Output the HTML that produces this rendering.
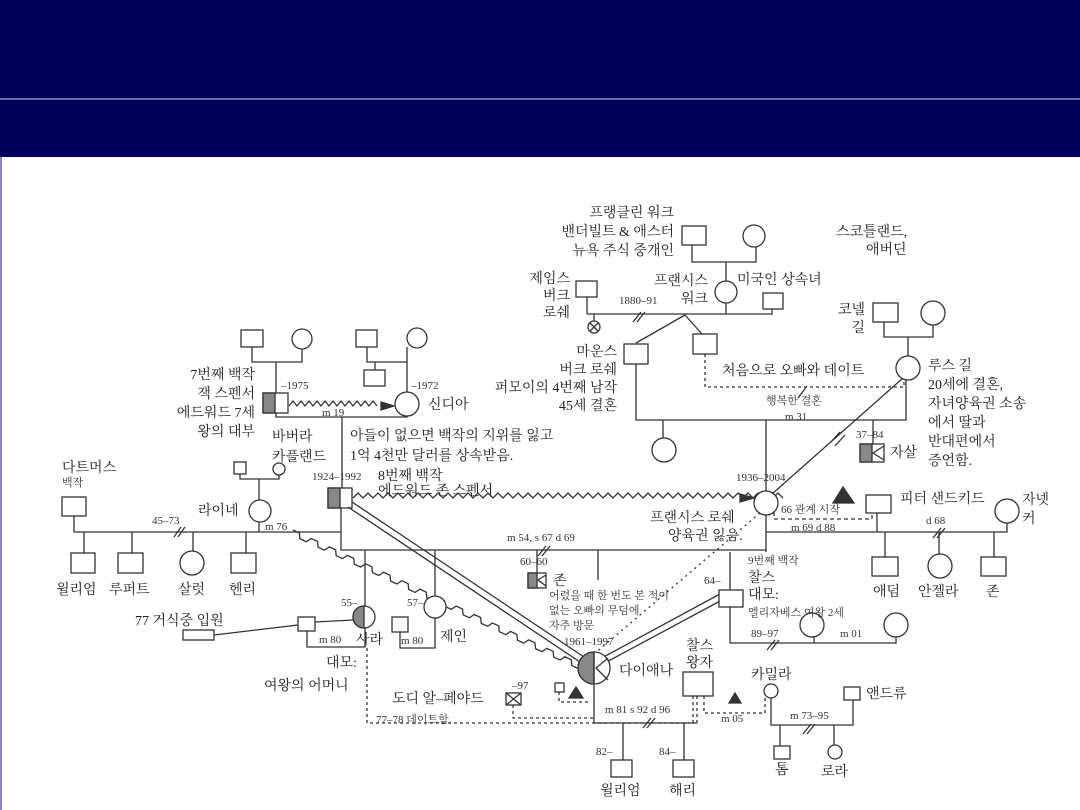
<!DOCTYPE html>
<html><head><meta charset="utf-8"><style>
html,body{margin:0;padding:0;width:1080px;height:810px;overflow:hidden;background:#fff}
svg{display:block}
text{font-family:"Liberation Serif","Noto Serif CJK KR","Noto Serif CJK SC",serif;fill:#222;font-size:14px}
.s{font-size:11px;fill:#333}
</style></head><body>
<svg width="1080" height="810" viewBox="0 0 1080 810">
<rect x="0" y="0" width="1080" height="157" fill="#00005a"/>
<rect x="0" y="98" width="1080" height="2" fill="#6a6a9a"/>
<rect x="0" y="157" width="2" height="653" fill="#8888bb"/>
<g stroke="#333" stroke-width="1.3" fill="none">
<rect x="241" y="330" width="22" height="17" fill="#fff"/>
<circle cx="302" cy="339" r="10" fill="#fff"/>
<path d="M252 347V362H302V349M276 362V393"/>
<rect x="263" y="393" width="25" height="20" fill="#fff"/>
<rect x="263" y="393" width="12" height="20" fill="#888"/>
<rect x="356" y="330" width="21" height="17" fill="#fff"/>
<circle cx="417" cy="338" r="10" fill="#fff"/>
<path d="M367 347V362H407M407 347V392M375 362V370"/>
<rect x="364" y="370" width="21" height="16" fill="#fff"/>
<circle cx="407" cy="404" r="12" fill="#fff"/>
<path d="M276 413V417H407V416M342 417V488"/>
<path d="M0 0l4 -5l4 5l4 -5l4 5l4 -5l4 5l4 -5l4 5l4 -5l4 5l4 -5l4 5l4 -5l4 5l4 -5l4 5l4 -5l4 5l4 -5l4 5l4 -5l4 5" transform="translate(289 406)"/>
<polygon points="381,402 394,406 381,410" fill="#333"/>
<rect x="234" y="462" width="12" height="12" fill="#fff"/>
<circle cx="279" cy="469" r="6" fill="#fff"/>
<path d="M240 474V479H279V475M259 479V500"/>
<circle cx="260" cy="511" r="11" fill="#fff"/>
<rect x="62" y="497" width="24" height="19" fill="#fff"/>
<path d="M74 516V532H341M84 532V553M132 532V553M193 532V553M246 532V553M259 522V532M174 537l7 -10M178 537l7 -10"/>
<rect x="71" y="553" width="24" height="20" fill="#fff"/>
<rect x="118" y="553" width="25" height="20" fill="#fff"/>
<circle cx="192" cy="563" r="12" fill="#fff"/>
<rect x="231" y="553" width="25" height="20" fill="#fff"/>
<rect x="328" y="488" width="24" height="20" fill="#fff"/>
<rect x="328" y="488" width="12" height="20" fill="#888"/>
<path d="M341 508V550H766"/>
<path d="M0 0l5 -5l5 5l5 -5l5 5l5 -5l5 5l5 -5l5 5l5 -5l5 5l5 -5l5 5l5 -5l5 5l5 -5l5 5l5 -5l5 5l5 -5l5 5l5 -5l5 5l5 -5l5 5l5 -5l5 5l5 -5l5 5l5 -5l5 5l5 -5l5 5l5 -5l5 5l5 -5l5 5l5 -5l5 5l5 -5l5 5l5 -5l5 5l5 -5l5 5l5 -5l5 5l5 -5l5 5l5 -5l5 5l5 -5l5 5l5 -5l5 5l5 -5l5 5l5 -5l5 5l5 -5l5 5l5 -5l5 5l5 -5l5 5l5 -5l5 5l5 -5l5 5l5 -5l5 5l5 -5l5 5l5 -5l5 5l5 -5l5 5l5 -5l5 5l5 -5l5 5l5 -5l5 5l5 -5l5 5l5 -5l5 5" transform="translate(353 498)"/>
<polygon points="740,494 754,498 740,502" fill="#333"/>
<path d="M0 0h7l3 5h7l3 -5h7l3 5h7l3 -5h7l3 5h7l3 -5h7l3 5h7l3 -5h7l3 5h7l3 -5h7l3 5h7l3 -5h7l3 5h7l3 -5h7l3 5h7l3 -5h7l3 5h7l3 -5h7l3 5h7l3 -5h7l3 5h7l3 -5h7l3 5h7l3 -5h7l3 5h7l3 -5h7l3 5h7l3 -5h7l3 5h7l3 -5h7l3 5h7l3 -5h7l3 5h7" transform="translate(293 530) rotate(25)"/>
<path d="M352 502L584 657M348 507L580 662"/>
<path d="M598 660L720 594M601 665L722 600"/>
<path d="M365 550V606"/>
<circle cx="364" cy="617" r="11" fill="#fff"/>
<path d="M364 606a11 11 0 0 0 0 22z" fill="#888"/>
<rect x="298" y="617" width="17" height="14" fill="#fff"/>
<path d="M353 620L315 622M214 635L298 625M307 631V647H365V628"/>
<rect x="183" y="630" width="31" height="10" fill="#fff"/>
<path d="M435 550V596"/>
<circle cx="435" cy="607" r="11" fill="#fff"/>
<rect x="392" y="617" width="16" height="15" fill="#fff"/>
<path d="M400 632V648H435V618"/>
<path d="M537 550V573M538 556l8 -10M542 556l8 -10M598 550V580"/>
<rect x="528" y="573" width="18" height="15" fill="#fff"/>
<rect x="528" y="573" width="9" height="15" fill="#888"/>
<path d="M546 575L538 580L546 586"/>
<circle cx="766" cy="503" r="12" fill="#fff"/>
<path d="M766 515V552M766 532H1007V522M877 513V532M885 532V557M939 532V555M994 532V557M933 538l8 -10M937 538l8 -10"/>
<rect x="866" y="495" width="25" height="18" fill="#fff"/>
<circle cx="1007" cy="511" r="12" fill="#fff"/>
<rect x="872" y="557" width="26" height="19" fill="#fff"/>
<circle cx="940" cy="566" r="12" fill="#fff"/>
<rect x="981" y="557" width="25" height="19" fill="#fff"/>
<path d="M774 512V519H872V513" stroke-dasharray="4 3"/>
<polygon points="843,487 833,503 854,503" fill="#333"/>
<path d="M903 378L772 494"/>
<path d="M760 513L593 655" stroke-dasharray="2 4"/>
<path d="M730 552V590M730 607V643H896V634M814 634V643M767 650l8 -10M771 650l8 -10"/>
<rect x="719" y="590" width="24" height="17" fill="#fff"/>
<circle cx="812" cy="625" r="12" fill="#fff"/>
<circle cx="896" cy="625" r="12" fill="#fff"/>
<circle cx="594" cy="668" r="16" fill="#fff"/>
<path d="M594 652a16 16 0 0 0 0 32z" fill="#888"/>
<path d="M608 658L596 668L608 680M594 652V684"/>
<path d="M594 684V723H697M643 728l8 -10M647 728l8 -10"/>
<rect x="683" y="672" width="30" height="24" fill="#fff"/>
<path d="M693 696V723M697 696V723M704 696V713H765V698" stroke-dasharray="3 3"/>
<polygon points="735,693 729,703 741,703" fill="#333"/>
<circle cx="771" cy="691" r="7" fill="#fff"/>
<path d="M771 698V725H853V700M780 725V746M834 725V747M803 734l8 -10M807 734l8 -10"/>
<rect x="844" y="687" width="16" height="13" fill="#fff"/>
<rect x="774" y="746" width="16" height="13" fill="#fff"/>
<circle cx="835" cy="752" r="7" fill="#fff"/>
<path d="M623 723V760M684 723V760"/>
<rect x="611" y="760" width="21" height="17" fill="#fff"/>
<rect x="673" y="760" width="21" height="17" fill="#fff"/>
<rect x="506" y="693" width="15" height="12" fill="#fff"/>
<path d="M506 693L521 705M521 693L506 705"/>
<path d="M513 705V718H594M367 648V723H690" stroke-dasharray="3 3"/>
<rect x="555" y="683" width="9" height="9" fill="#fff"/>
<polygon points="576,687 569,698 583,698" fill="#333"/>
<path d="M559 692V702H591" stroke-dasharray="3 3"/>
<rect x="682" y="226" width="24" height="19" fill="#fff"/>
<circle cx="754" cy="236" r="11" fill="#fff"/>
<path d="M692 245V262H756V247M726 262V281"/>
<circle cx="726" cy="292" r="11" fill="#fff"/>
<path d="M726 303V314M587 314H772V309M587 297V314M594 314V321M633 322l8 -10M637 322l8 -10"/>
<rect x="763" y="293" width="20" height="16" fill="#fff"/>
<rect x="576" y="281" width="21" height="16" fill="#fff"/>
<circle cx="594" cy="327" r="6" fill="#fff"/>
<path d="M590 323l8 8M598 323l-8 8"/>
<path d="M685 315L636 343M685 315L702 334"/>
<rect x="624" y="344" width="24" height="20" fill="#fff"/>
<rect x="693" y="334" width="24" height="20" fill="#fff"/>
<path d="M705 354V387H904V378" stroke-dasharray="3 3"/>
<path d="M798 398l9 -12"/>
<rect x="873" y="303" width="25" height="19" fill="#fff"/>
<circle cx="933" cy="313" r="12" fill="#fff"/>
<circle cx="908" cy="368" r="12" fill="#fff"/>
<path d="M884 322V337H933V325M908 337V356"/>
<path d="M636 364V420H906V380M663 420V438M766 420V491M873 420V444"/>
<path d="M830 443l10 -11M835 446l10 -11"/>
<circle cx="664" cy="450" r="12" fill="#fff"/>
<rect x="860" y="444" width="24" height="18" fill="#fff"/>
<rect x="860" y="444" width="12" height="18" fill="#888"/>
<path d="M884 446L873 453L884 460"/>
</g>
<g>
<text x="674" y="217" text-anchor="end">프랭클린 워크</text>
<text x="674" y="236" text-anchor="end">밴더빌트 &amp; 애스터</text>
<text x="674" y="255" text-anchor="end">뉴욕 주식 중개인</text>
<text x="836" y="236">스코틀랜드,</text>
<text x="866" y="254">애버딘</text>
<text x="570" y="283" text-anchor="end">제임스</text>
<text x="570" y="300" text-anchor="end">버크</text>
<text x="570" y="317" text-anchor="end">로쉐</text>
<text x="708" y="285" text-anchor="end">프랜시스</text>
<text x="708" y="303" text-anchor="end">워크</text>
<text x="737" y="284">미국인 상속녀</text>
<text x="619" y="304" class="s">1880–91</text>
<text x="865" y="314" text-anchor="end">코넬</text>
<text x="865" y="332" text-anchor="end">길</text>
<text x="617" y="356" text-anchor="end">마운스</text>
<text x="617" y="374" text-anchor="end">버크 로쉐</text>
<text x="617" y="392" text-anchor="end">퍼모이의 4번째 남작</text>
<text x="617" y="410" text-anchor="end">45세 결혼</text>
<text x="722" y="375">처음으로 오빠와 데이트</text>
<text x="766" y="404" class="s">행복한 결혼</text>
<text x="785" y="420" class="s">m 31</text>
<text x="928" y="370">루스 길</text>
<text x="928" y="389">20세에 결혼,</text>
<text x="928" y="408">자녀양육권 소송</text>
<text x="928" y="427">에서 딸과</text>
<text x="928" y="446">반대편에서</text>
<text x="928" y="465">증언함.</text>
<text x="856" y="438" class="s">37–84</text>
<text x="890" y="457">자살</text>
<text x="255" y="379" text-anchor="end">7번째 백작</text>
<text x="255" y="398" text-anchor="end">잭 스펜서</text>
<text x="255" y="417" text-anchor="end">에드워드 7세</text>
<text x="255" y="436" text-anchor="end">왕의 대부</text>
<text x="281" y="389" class="s">–1975</text>
<text x="411" y="389" class="s">–1972</text>
<text x="322" y="416" class="s">m 19</text>
<text x="428" y="409">신디아</text>
<text x="272" y="441">바버라</text>
<text x="272" y="461">카플랜드</text>
<text x="350" y="440">아들이 없으면 백작의 지위를 잃고</text>
<text x="350" y="460">1억 4천만 달러를 상속받음.</text>
<text x="62" y="472">다트머스</text>
<text x="62" y="486" class="s">백작</text>
<text x="198" y="515">라이네</text>
<text x="312" y="480" class="s">1924–1992</text>
<text x="378" y="480">8번째 백작</text>
<text x="378" y="495">에드워드 존 스펜서</text>
<text x="152" y="524" class="s">45–73</text>
<text x="265" y="530" class="s">m 76</text>
<text x="56" y="594">윌리엄</text>
<text x="109" y="594">루퍼트</text>
<text x="178" y="594">살럿</text>
<text x="229" y="594">헨리</text>
<text x="507" y="541" class="s">m 54, s 67 d 69</text>
<text x="520" y="565" class="s">60–60</text>
<text x="553" y="585">존</text>
<text x="549" y="599" class="s">어렸을 때 한 번도 본 적이</text>
<text x="549" y="614" class="s">없는 오빠의 무덤에</text>
<text x="549" y="629" class="s">자주 방문</text>
<text x="736" y="481" class="s">1936–2004</text>
<text x="650" y="522">프랜시스 로쉐</text>
<text x="668" y="540">양육권 잃음.</text>
<text x="781" y="513" class="s">66 관계 시작</text>
<text x="791" y="531" class="s">m 69 d 88</text>
<text x="900" y="503">피터 샌드키드</text>
<text x="926" y="524" class="s">d 68</text>
<text x="1022" y="504">자넷</text>
<text x="1022" y="523">커</text>
<text x="873" y="596">애덤</text>
<text x="918" y="596">안젤라</text>
<text x="986" y="596">존</text>
<text x="748" y="564" class="s">9번째 백작</text>
<text x="748" y="582">찰스</text>
<text x="748" y="599">대모:</text>
<text x="748" y="616" class="s">엘리자베스 여왕 2세</text>
<text x="704" y="584" class="s">64–</text>
<text x="751" y="637" class="s">89–97</text>
<text x="840" y="637" class="s">m 01</text>
<text x="341" y="606" class="s">55–</text>
<text x="407" y="606" class="s">57–</text>
<text x="135" y="625">77 거식중 입원</text>
<text x="319" y="643" class="s">m 80</text>
<text x="356" y="644">사라</text>
<text x="401" y="644" class="s">m 80</text>
<text x="440" y="641">제인</text>
<text x="326" y="667">대모:</text>
<text x="264" y="690">여왕의 어머니</text>
<text x="392" y="703">도디 알–페야드</text>
<text x="512" y="689" class="s">–97</text>
<text x="376" y="723" class="s">77–78 데이트함.</text>
<text x="564" y="645" class="s">1961–1997</text>
<text x="619" y="675">다이애나</text>
<text x="686" y="650">찰스</text>
<text x="686" y="667">왕자</text>
<text x="751" y="679">카밀라</text>
<text x="866" y="698">앤드류</text>
<text x="605" y="713" class="s">m 81 s 92 d 96</text>
<text x="721" y="722" class="s">m 05</text>
<text x="790" y="719" class="s">m 73–95</text>
<text x="596" y="755" class="s">82–</text>
<text x="659" y="755" class="s">84–</text>
<text x="600" y="795">윌리엄</text>
<text x="669" y="795">해리</text>
<text x="775" y="774">톰</text>
<text x="821" y="776">로라</text>
</g>
</svg>
</body></html>
